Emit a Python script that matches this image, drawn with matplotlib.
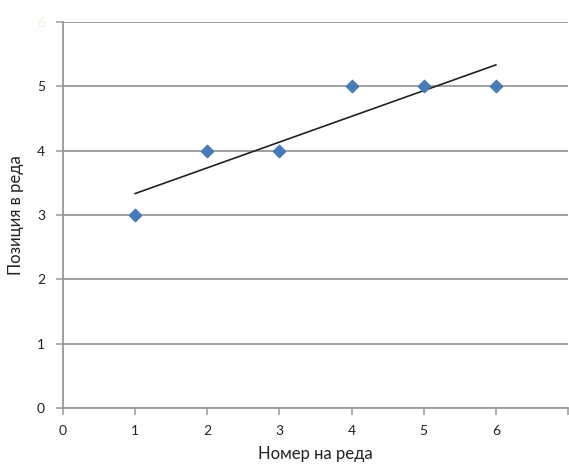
import numpy as np
import matplotlib
matplotlib.use("Agg")
import matplotlib.pyplot as plt

plt.rcParams['font.family'] = ['Lato', 'DejaVu Sans']

row_num = np.array([1, 2, 3, 4, 5, 6])
position = np.array([3, 4, 4, 5, 5, 5])
x_ticks = [0, 1, 2, 3, 4, 5, 6, 7]
y_ticks = [0, 1, 2, 3, 4, 5, 6]

fig = plt.figure(figsize=(5.69, 4.66), dpi=100)
ax = fig.add_axes([63 / 569, 58 / 466, 505 / 569, 386 / 466])

# linear trend line over the data range
k, b = np.polyfit(row_num, position, 1)
tx = np.array([row_num.min(), row_num.max()])
ax.plot(tx, k * tx + b, color='#222222', lw=1.2, zorder=3)

ax.scatter(row_num, position, marker='D', s=40, color='#4a7ab5', zorder=4)

ax.set_xlim(0, 7)
ax.set_ylim(0, 6)
ax.set_xticks(x_ticks)
ax.set_xticklabels(['0', '1', '2', '3', '4', '5', '6', ''])
ax.set_yticks(y_ticks)
ax.yaxis.grid(True, color='#999999', lw=1.3)
ax.set_axisbelow(True)

for s in ['top', 'right']:
    ax.spines[s].set_visible(False)
for s in ['left', 'bottom']:
    ax.spines[s].set_color('#999999')
    ax.spines[s].set_linewidth(1.3)

ax.tick_params(axis='both', colors='#999999', length=5, width=1.1,
               labelsize=10, labelcolor='#222222')
ax.tick_params(axis='x', pad=7)
ax.tick_params(axis='y', pad=8)
ax.get_yticklabels()[-1].set_color('#f2efdc')

ax.set_xlabel('Номер на реда', fontsize=12, color='#222222', labelpad=7)
ax.set_ylabel('Позиция в реда', fontsize=12, color='#222222', labelpad=9)

fig.savefig('out.png', dpi=100)
